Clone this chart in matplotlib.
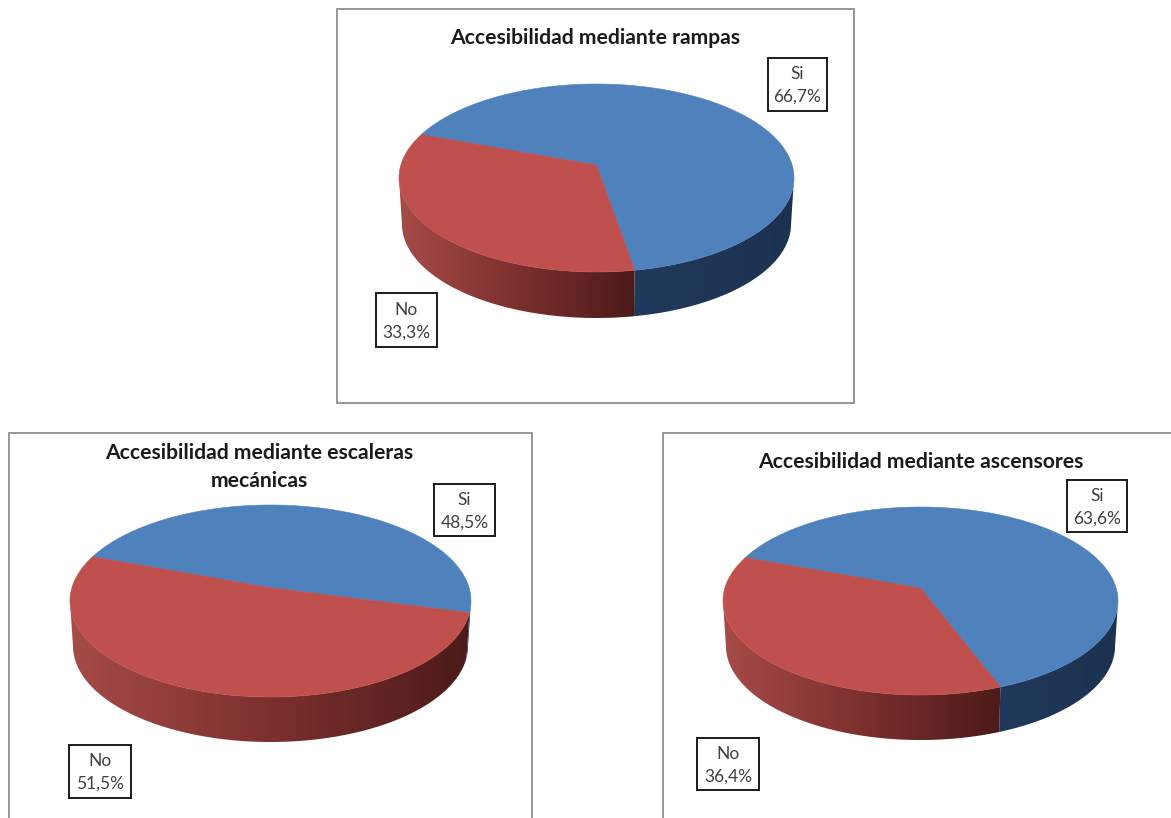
import numpy as np
import matplotlib
matplotlib.use("Agg")
import matplotlib.pyplot as plt
from matplotlib.colors import LinearSegmentedColormap
from matplotlib.patches import Polygon, Rectangle

# Survey results per accessibility type
titles = [
    "Accesibilidad mediante rampas",
    "Accesibilidad mediante escaleras\nmecánicas",
    "Accesibilidad mediante ascensores",
]
si_values = [66.7, 48.5, 63.6]
no_values = [33.3, 51.5, 36.4]
slice_names = ["Si", "No"]

# Layout in pixels: ellipse left, right, top, bottom of the top face
pie_boxes = [(399, 794, 84, 272), (70, 471, 505, 697), (723, 1118, 507, 695)]
pie_depths = [46, 45, 45]
frames = [(337, 9, 854, 403), (9, 433, 532, 840), (663, 433, 1190, 840)]
title_pos = [(595.5, 38), (259, 467), (921, 462)]
si_boxes = [(768, 58, 827, 111), (434, 484, 495, 536), (1067, 480, 1127, 532)]
no_boxes = [(376, 293, 437, 347), (69, 745, 131, 798), (697, 738, 759, 790)]

# Angle of the first slice, clockwise from the back of the pie
start_angle = 290.2
persp = 0.138

top_colors = ["#4f81bd", "#c0504d"]
wall_cmaps = [
    LinearSegmentedColormap.from_list("blue_wall", ["#21395c", "#1c3250"]),
    LinearSegmentedColormap.from_list("red_wall", ["#a64b48", "#7c302e", "#4c1b19"]),
]

plt.rcParams["font.family"] = ["Lato", "DejaVu Sans"]


def project(theta, box):
    # Perspective view of the unit circle, theta in degrees clockwise from the back
    left, right, top, bottom = box
    cx = (left + right) / 2
    rx = (right - left) / 2
    height = bottom - top
    apex = top + height / (2 + 2 * persp / (1 - persp))
    b = (bottom - apex) * (1 - persp)
    a = rx * np.sqrt(1 - persp ** 2)
    t = np.radians(theta)
    x, z = np.sin(t), -np.cos(t)
    return cx + a * x / (1 - persp * z), apex + b * z / (1 - persp * z), apex


def draw_pie(ax, values, box, depth):
    cx = (box[0] + box[1]) / 2
    spans = np.array(values) / 100 * 360
    starts = start_angle + np.concatenate([[0], np.cumsum(spans)[:-1]])

    # Side wall first: a left to right gradient clipped to the visible rim,
    # which runs between the two widest points of the ellipse
    for i in range(len(values)):
        theta = np.linspace(starts[i], starts[i] + spans[i], 400)
        theta = theta[-np.cos(np.radians(theta)) >= persp]
        xs, ys, _ = project(theta, box)
        xb = cx + (xs - cx) * 0.985
        yb = ys + depth
        pts = np.column_stack([np.r_[xs, xb[::-1]], np.r_[ys, yb[::-1]]])
        clip = Polygon(pts, closed=True, facecolor="none", edgecolor="none",
                       transform=ax.transData)
        ax.add_patch(clip)
        gradient = np.linspace(0, 1, 256)[None, :]
        img = ax.imshow(gradient, cmap=wall_cmaps[i], aspect="auto", zorder=2,
                        extent=(pts[:, 0].min(), pts[:, 0].max(),
                                pts[:, 1].max(), pts[:, 1].min()))
        img.set_clip_path(clip)

    # Top face
    for i in range(len(values)):
        theta = np.linspace(starts[i], starts[i] + spans[i], 300)
        xs, ys, apex = project(theta, box)
        pts = np.column_stack([np.r_[cx, xs], np.r_[apex, ys]])
        ax.add_patch(Polygon(pts, closed=True, facecolor=top_colors[i],
                             edgecolor=top_colors[i], linewidth=0.4, zorder=3))


def draw_label(ax, box, name, value):
    x0, y0, x1, y1 = box
    ax.add_patch(Rectangle((x0, y0), x1 - x0, y1 - y0, facecolor="white",
                           edgecolor="#1a1a1a", linewidth=1.4, zorder=5))
    text = f"{name}\n{value:.1f}%".replace(".", ",")
    ax.text((x0 + x1) / 2, (y0 + y1) / 2 + 1, text, ha="center", va="center",
            fontsize=12.5, color="#404040", linespacing=1.5, zorder=6)


fig = plt.figure(figsize=(11.71, 8.18), dpi=100)
ax = fig.add_axes([0, 0, 1, 1])
ax.axis("off")

for k in range(3):
    fx0, fy0, fx1, fy1 = frames[k]
    ax.add_patch(Rectangle((fx0, fy0), fx1 - fx0, fy1 - fy0, facecolor="white",
                           edgecolor="#8e8e8e", linewidth=1.3, zorder=1))
    draw_pie(ax, [si_values[k], no_values[k]], pie_boxes[k], pie_depths[k])
    ax.text(title_pos[k][0], title_pos[k][1], titles[k], ha="center", va="center",
            fontsize=15.2, fontweight="bold", color="#1a1a1a", linespacing=1.45, zorder=6)
    draw_label(ax, si_boxes[k], slice_names[0], si_values[k])
    draw_label(ax, no_boxes[k], slice_names[1], no_values[k])

ax.set_xlim(0, 1171)
ax.set_ylim(818, 0)

fig.savefig("out.png", dpi=100)
